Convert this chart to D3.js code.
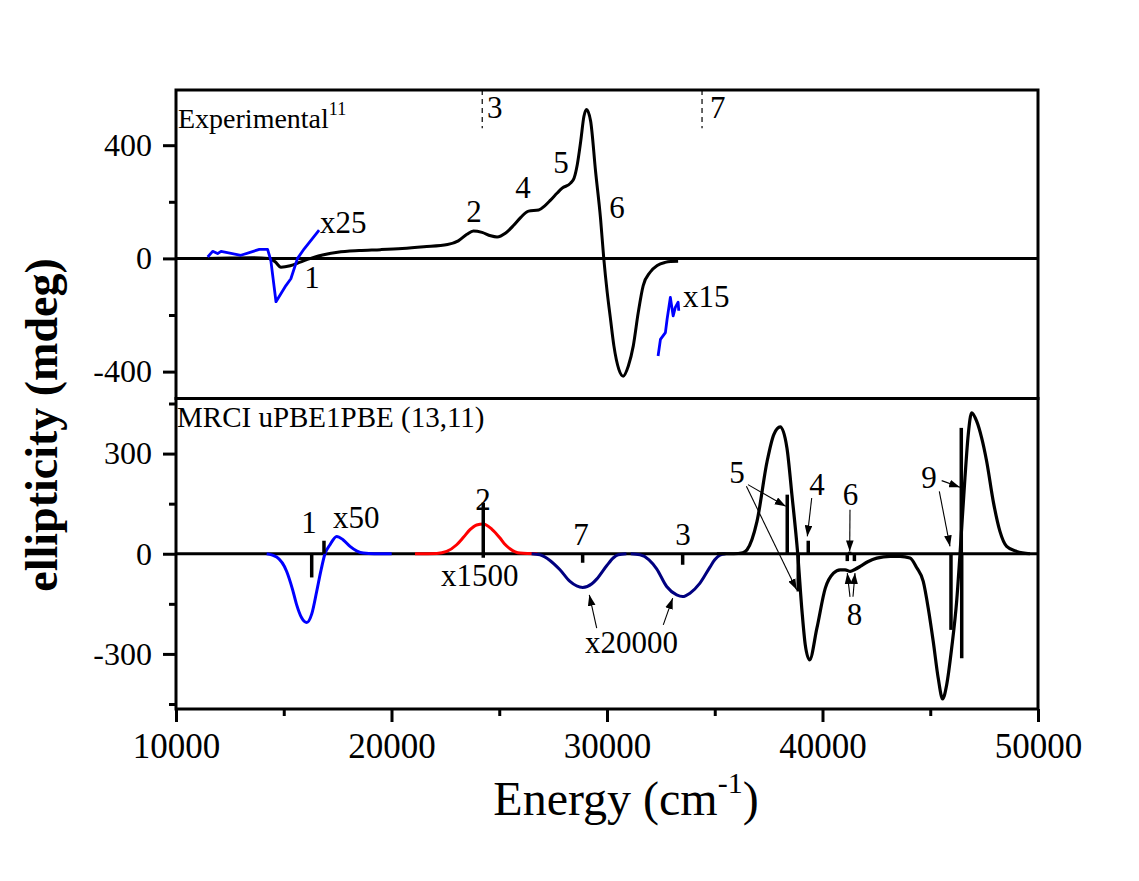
<!DOCTYPE html>
<html>
<head>
<meta charset="utf-8">
<script src="https://cdn.jsdelivr.net/npm/d3@7"></script>
<style>
  body { margin: 0; background: #ffffff; }
  text { font-family: "Liberation Serif", "Times New Roman", serif; fill: #000; }
</style>
</head>
<body>
<svg id="chart" width="1139" height="881"></svg>
<script>
// ---------- Axis ticks ----------
const xMajorTicks = [10000, 20000, 30000, 40000, 50000];
const xMinorTicks = [15000, 25000, 35000, 45000];
const topMajorTicks = [-400, 0, 400];
const topMinorTicks = [-200, 200];
const botMajorTicks = [-300, 0, 300];
const botMinorTicks = [-450, -150, 150, 450];

// ---------- Experimental CD spectrum (energy cm^-1, mdeg) ----------
const expBlack = [
  [11400, 0], [12500, 1], [13500, 2], [14300, 0], [14600, -12], [14870, -31],
  [15300, -26], [15800, -12], [16250, 0], [16800, 12], [17500, 22], [18500, 28],
  [19500, 31], [20500, 35], [21500, 41], [22600, 49], [23100, 62], [23500, 85],
  [23800, 97], [24200, 92], [24600, 80], [24900, 76], [25300, 90], [25670, 117],
  [26000, 145], [26360, 167], [26830, 171], [27100, 185], [27380, 206], [27700, 232],
  [27920, 248], [28310, 266], [28470, 283], [28620, 331], [28780, 414], [28930, 502],
  [29050, 526], [29240, 485], [29470, 307], [29700, 141], [29850, 0], [30010, -120],
  [30160, -213], [30320, -309], [30550, -392], [30750, -416], [30990, -380],
  [31220, -309], [31450, -191], [31680, -96], [32000, -49], [32330, -25],
  [32700, -14], [32950, -11], [33300, -10]
];
// scaled x25
const expBlueX25 = [
  [11470, 5], [11700, 25], [11930, 17], [12090, 25], [13010, 11], [13870, 32],
  [14250, 32], [14400, -7], [14640, -153], [15100, -96], [15330, -72],
  [15640, 0], [15950, 34], [16640, 100]
];
// scaled x15
const expBlueX15 = [
  [32370, -345], [32480, -286], [32710, -262], [32790, -214], [32940, -138],
  [33070, -203], [33170, -173], [33300, -155], [33330, -185]
];
// dashed position markers
const expMarkers = [[24210, "3"], [34410, "7"]];

// ---------- MRCI uPBE1PBE (13,11) simulated spectrum ----------
const calcBlueX50 = [
  [14208, 0], [14672, -10], [15136, -53], [15400, -105], [15600, -153], [15830, -192],
  [16064, -206], [16300, -180], [16528, -113], [16720, -52], [16914, 0], [17146, 27],
  [17456, 52], [17750, 42], [18074, 22], [18400, 8], [18691, 2], [19200, 0], [20008, 0]
];
const calcRedX1500 = [
  [21090, 0], [22100, 1], [22560, 7], [23024, 27], [23350, 50], [23642, 72],
  [23950, 86], [24258, 89], [24650, 74], [25034, 47], [25250, 29], [25498, 15],
  [25962, 2], [26770, 0]
];
const calcNavyX20000a = [
  [26500, 0], [26890, -3], [27354, -20], [27818, -48], [28282, -83], [28870, -101],
  [29300, -90], [29520, -76], [29984, -36], [30300, -12], [30523, -3], [30900, 0]
];
const calcNavyX20000b = [
  [31100, 0], [31530, -3], [31950, -18], [32304, -45], [32768, -98], [33233, -123],
  [33511, -128], [33850, -118], [34314, -88], [34778, -40], [35000, -18],
  [35242, -4], [35500, 0]
];
const calcBlack = [
  [35100, 0], [35880, 0], [36300, 3], [36500, 12], [36960, 97], [37430, 277],
  [37740, 357], [38040, 380], [38350, 317], [38580, 177], [38850, 0], [39050, -173],
  [39200, -273], [39400, -318], [39740, -223], [40130, -103], [40510, -58],
  [40820, -48], [41050, -48], [41290, -53], [41500, -47], [41750, -38], [42100, -24],
  [42520, -13], [43140, -8], [43600, -8], [44058, -13], [44367, -41], [44675, -83],
  [44907, -163], [45139, -263], [45371, -373], [45575, -435], [45761, -393],
  [45993, -283], [46225, -143], [46378, -3], [46610, 227], [46763, 357], [46921, 422],
  [47153, 397], [47385, 347], [47617, 277], [47923, 157], [48234, 67], [48545, 22],
  [49009, 7], [49630, 0]
];
// transition sticks [energy, rotatory strength (scaled)]
const calcSticks = [
  [16297, -71], [16867, 39], [24258, 153], [24258, -12], [28870, -27], [33511, -33],
  [38364, 177], [38875, -113], [39339, 39], [41150, -22], [41260, 6], [41480, -22],
  [45962, -228], [46440, 377], [46460, -313]
];

// ---------- Annotations (energy, mdeg) ----------
const topLabels = [
  ["x25", 16680, 89, "start"], ["1", 16310, -105, "middle"], ["2", 23830, 128, "middle"],
  ["3", 24430, 495, "start"], ["4", 26100, 213, "middle"], ["5", 27865, 301, "middle"],
  ["6", 30464, 142, "middle"], ["7", 34780, 495, "start"], ["x15", 33530, -172, "start"]
];
const botLabels = [
  ["1", 16170, 63, "middle"], ["x50", 17285, 78, "start"], ["2", 24246, 132, "middle"],
  ["x1500", 24100, -96, "middle"], ["7", 28793, 27, "middle"], ["3", 33527, 27, "middle"],
  ["x20000", 31137, -297, "middle"], ["5", 36032, 213, "middle"], ["4", 39745, 177, "middle"],
  ["6", 41300, 147, "middle"], ["8", 41485, -213, "middle"], ["9", 44942, 198, "middle"]
];
const botArrows = [
  [36543, 207, 38292, 142], [36469, 202, 38800, -108], [39499, 167, 39295, 52],
  [29522, -223, 29179, -123], [32612, -213, 33048, -133], [41276, 132, 41262, 7],
  [41276, -129, 41151, -58], [41415, -129, 41508, -58],
  [45532, 219, 46381, 199], [45420, 187, 45916, 22]
];

// ---------- Layout ----------
const svg = d3.select("#chart");
const X0 = 176, X1 = 1038, Ytop = 90, Ymid = 398.5, Ybot = 709;

const x = d3.scaleLinear().domain([10000, 50000]).range([X0, X1]);
const yTop = d3.scaleLinear().domain([-495, 595]).range([Ymid, Ytop]);
const yBot = d3.scaleLinear().domain([-465, 465]).range([Ybot, Ymid]);

const defs = svg.append("defs");
defs.append("marker")
  .attr("id", "head")
  .attr("viewBox", "0 0 10 7")
  .attr("refX", 10).attr("refY", 3.5)
  .attr("markerWidth", 11).attr("markerHeight", 8)
  .attr("markerUnits", "userSpaceOnUse")
  .attr("orient", "auto")
  .append("path").attr("d", "M0,0 L10,3.5 L0,7 Z").attr("fill", "#000");

function drawCurve(data, y, color, width, curve) {
  svg.append("path")
    .datum(data)
    .attr("fill", "none")
    .attr("stroke", color)
    .attr("stroke-width", width)
    .attr("stroke-linejoin", "round")
    .attr("d", d3.line().x(d => x(d[0])).y(d => y(d[1])).curve(curve));
}

// zero lines
[[yTop], [yBot]].forEach(([y]) => {
  svg.append("line")
    .attr("x1", X0).attr("x2", X1)
    .attr("y1", y(0)).attr("y2", y(0))
    .attr("stroke", "#000").attr("stroke-width", 3);
});

// experimental panel
drawCurve(expBlack, yTop, "#000", 3, d3.curveMonotoneX);
drawCurve(expBlueX25, yTop, "#0000ff", 2.8, d3.curveLinear);
drawCurve(expBlueX15, yTop, "#0000ff", 2.8, d3.curveLinear);

expMarkers.forEach(([e]) => {
  svg.append("line")
    .attr("x1", x(e)).attr("x2", x(e))
    .attr("y1", Ytop).attr("y2", yTop(460))
    .attr("stroke", "#000").attr("stroke-width", 1.2)
    .attr("stroke-dasharray", "5,4");
});

// calculated panel
drawCurve(calcBlueX50, yBot, "#0000ff", 3, d3.curveMonotoneX);
drawCurve(calcRedX1500, yBot, "#ff0000", 3, d3.curveMonotoneX);
drawCurve(calcNavyX20000a, yBot, "#000080", 3, d3.curveMonotoneX);
drawCurve(calcNavyX20000b, yBot, "#000080", 3, d3.curveMonotoneX);
drawCurve(calcBlack, yBot, "#000", 3.2, d3.curveMonotoneX);

svg.append("g").selectAll("line")
  .data(calcSticks)
  .join("line")
  .attr("x1", d => x(d[0])).attr("x2", d => x(d[0]))
  .attr("y1", yBot(0)).attr("y2", d => yBot(d[1]))
  .attr("stroke", "#000").attr("stroke-width", 3.5);

svg.append("g").selectAll("line")
  .data(botArrows)
  .join("line")
  .attr("x1", d => x(d[0])).attr("y1", d => yBot(d[1]))
  .attr("x2", d => x(d[2])).attr("y2", d => yBot(d[3]))
  .attr("stroke", "#000").attr("stroke-width", 1.1)
  .attr("marker-end", "url(#head)");

// labels
function drawLabels(list, y) {
  svg.append("g").selectAll("text")
    .data(list)
    .join("text")
    .attr("x", d => x(d[1])).attr("y", d => y(d[2]))
    .attr("text-anchor", d => d[3])
    .attr("font-size", 31)
    .text(d => d[0]);
}
drawLabels(topLabels, yTop);
drawLabels(botLabels, yBot);

const expTitle = svg.append("text")
  .attr("x", X0 + 2).attr("y", 128)
  .attr("font-size", 28);
expTitle.append("tspan").text("Experimental");
expTitle.append("tspan").attr("font-size", 18).attr("dy", -13).text("11");

svg.append("text")
  .attr("x", X0 + 1).attr("y", 427)
  .attr("font-size", 29)
  .text("MRCI uPBE1PBE (13,11)");

// frames
[[Ytop, Ymid], [Ymid, Ybot]].forEach(([a, b]) => {
  svg.append("rect")
    .attr("x", X0).attr("y", a)
    .attr("width", X1 - X0).attr("height", b - a)
    .attr("fill", "none").attr("stroke", "#000").attr("stroke-width", 3);
});

// axes
function styleAxis(g) {
  g.select(".domain").remove();
  g.selectAll(".tick line").attr("stroke", "#000").attr("stroke-width", 3);
  g.selectAll(".tick text").attr("fill", "#000");
}
svg.append("g")
  .attr("transform", `translate(0,${Ybot})`)
  .call(d3.axisBottom(x).tickValues(xMajorTicks).tickSize(13).tickPadding(11).tickFormat(d => String(d)))
  .call(styleAxis)
  .call(g => g.selectAll(".tick text").attr("font-size", 35).attr("font-family", "Liberation Serif"));
svg.append("g")
  .attr("transform", `translate(0,${Ybot})`)
  .call(d3.axisBottom(x).tickValues(xMinorTicks).tickSize(7).tickFormat(""))
  .call(styleAxis);

[[yTop, topMajorTicks, topMinorTicks], [yBot, botMajorTicks, botMinorTicks]].forEach(([y, maj, min]) => {
  svg.append("g")
    .attr("transform", `translate(${X0},0)`)
    .call(d3.axisLeft(y).tickValues(maj).tickSize(13).tickPadding(11).tickFormat(d => String(d)))
    .call(styleAxis)
    .call(g => g.selectAll(".tick text").attr("font-size", 32).attr("font-family", "Liberation Serif"));
  svg.append("g")
    .attr("transform", `translate(${X0},0)`)
    .call(d3.axisLeft(y).tickValues(min).tickSize(7).tickFormat(""))
    .call(styleAxis);
});

// axis titles
const xTitle = svg.append("text")
  .attr("x", 626).attr("y", 815)
  .attr("text-anchor", "middle")
  .attr("font-size", 48);
xTitle.append("tspan").text("Energy (cm");
xTitle.append("tspan").attr("font-size", 30).attr("dy", -22).text("-1");
xTitle.append("tspan").attr("dy", 22).text(")");

svg.append("text")
  .attr("transform", "translate(57,425) rotate(-90)")
  .attr("text-anchor", "middle")
  .attr("font-size", 46)
  .attr("font-weight", "bold")
  .text("ellipticity (mdeg)");
</script>
</body>
</html>
